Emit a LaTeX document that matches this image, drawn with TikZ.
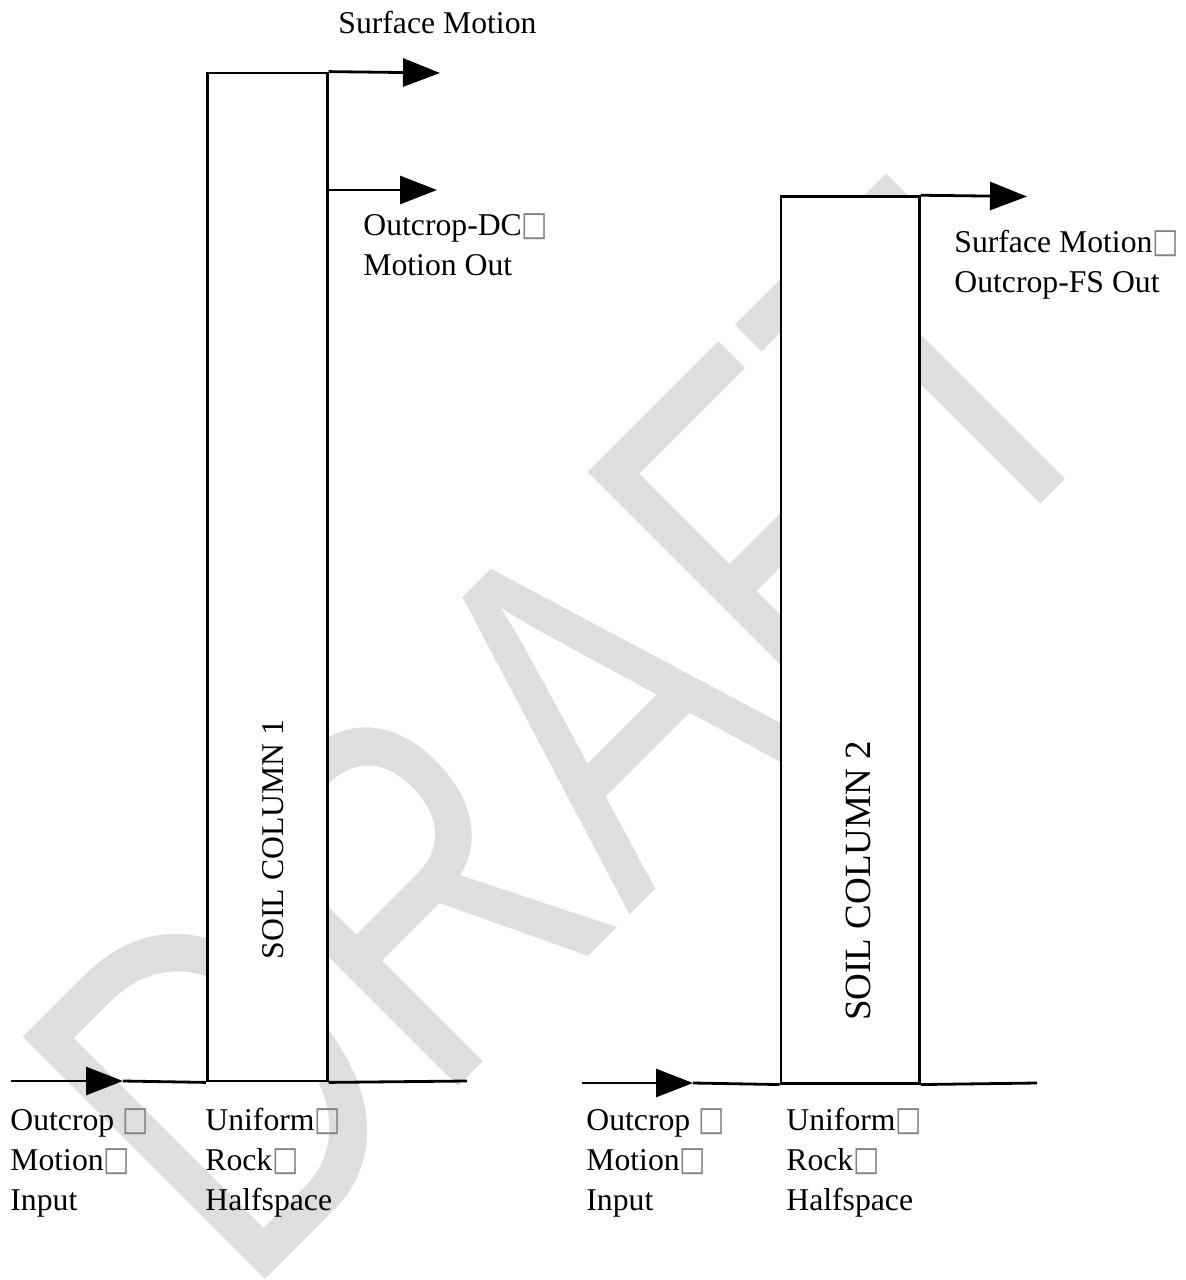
\documentclass[tikz,border=0pt]{standalone}
\usepackage{fontspec}
\usepackage{graphicx}
\setmainfont{Liberation Serif}
\newfontfamily\dejavu{DejaVu Sans}
\newfontfamily\wmfont[Kerning=Off]{Liberation Sans}
\usetikzlibrary{arrows.meta}
\definecolor{wmgray}{RGB}{222,222,222}
\definecolor{tofugray}{RGB}{130,130,130}
\newcommand\tofu{{\dejavu\fontsize{17pt}{17pt}\selectfont\color{tofugray}\scalebox{0.82}[1]{□}}}
\newcommand\lblfont{\fontsize{15.85pt}{20pt}\selectfont}
\newcommand\bigfont{\fontsize{18.5pt}{22pt}\selectfont}
\tikzset{
  line/.style={line width=1.4pt, line cap=butt},
  arr/.style={line, -{Triangle[length=18.5pt, width=14pt]}},
  colbox/.style={draw, line width=1.4pt, fill=white, inner sep=0pt},
  lab/.style={font=\lblfont, inner sep=0pt, anchor=base west},
  vlab/.style={font=\lblfont, inner sep=0pt, anchor=base, rotate=90},
  wmtext/.style={text=wmgray, inner sep=0pt, anchor=base west,
    font=\wmfont\fontsize{249pt}{249pt}\selectfont}
}
\begin{document}
\begin{tikzpicture}[x=0.5pt, y=-0.5pt]
\useasboundingbox (0,0) rectangle (1186,1280);
% watermark
\node[wmtext, rotate=45, xscale=0.76] (wm) at (243,1302) {DRAFT};
% columns
\node[colbox, minimum width=60pt, minimum height=504pt] (c1) at (267.25,577) {};
\node[colbox, minimum width=69.25pt, minimum height=443.25pt] (c2) at (850.25,639.9) {};
\node[vlab] (c1t) at (283,839.5) {SOIL COLUMN 1};
\node[vlab, font=\bigfont] (c2t) at (870,881) {SOIL COLUMN 2};
% output arrows
\coordinate (a1) at (440,73);
\coordinate (a2) at (437,190);
\coordinate (a3) at (1027,196.5);
\draw[arr] (c1.north east) -- (a1);
\draw[arr] (c1.east |- a2) -- (a2);
\draw[arr] (c2.north east) -- (a3);
% ground lines
\coordinate (g1s) at (11,1081);
\coordinate (g1t) at (123,1081);
\coordinate (g1e) at (467,1081);
\draw[arr] (g1s) -- (g1t);
\draw[line] (g1t) -- (c1.south west);
\draw[line] (c1.south east) -- (g1e);
\coordinate (g2s) at (582,1083);
\coordinate (g2t) at (693,1083);
\coordinate (g2e) at (1037,1083);
\draw[arr] (g2s) -- (g2t);
\draw[line] (g2t) -- (c2.south west);
\draw[line] (c2.south east) -- (g2e);
% labels
\node[lab] (sm1) at (338,33) {Surface Motion};
\node[lab] (dc1) at (363,235) {Outcrop-DC\tofu};
\node[lab] (dc2) at (363,275) {Motion Out};
\node[lab] (sm2a) at (954,252) {Surface Motion\tofu};
\node[lab] (sm2b) at (954,292) {Outcrop-FS Out};
\node[lab] (in1a) at (10,1130) {Outcrop \tofu};
\node[lab] (in1b) at (10,1170) {Motion\tofu};
\node[lab] (in1c) at (10,1210) {Input};
\node[lab] (hs1a) at (205,1130) {Uniform\tofu};
\node[lab] (hs1b) at (205,1170) {Rock\tofu};
\node[lab] (hs1c) at (205,1210) {Halfspace};
\node[lab] (in2a) at (586,1130) {Outcrop \tofu};
\node[lab] (in2b) at (586,1170) {Motion\tofu};
\node[lab] (in2c) at (586,1210) {Input};
\node[lab] (hs2a) at (786,1130) {Uniform\tofu};
\node[lab] (hs2b) at (786,1170) {Rock\tofu};
\node[lab] (hs2c) at (786,1210) {Halfspace};
\end{tikzpicture}
\end{document}
